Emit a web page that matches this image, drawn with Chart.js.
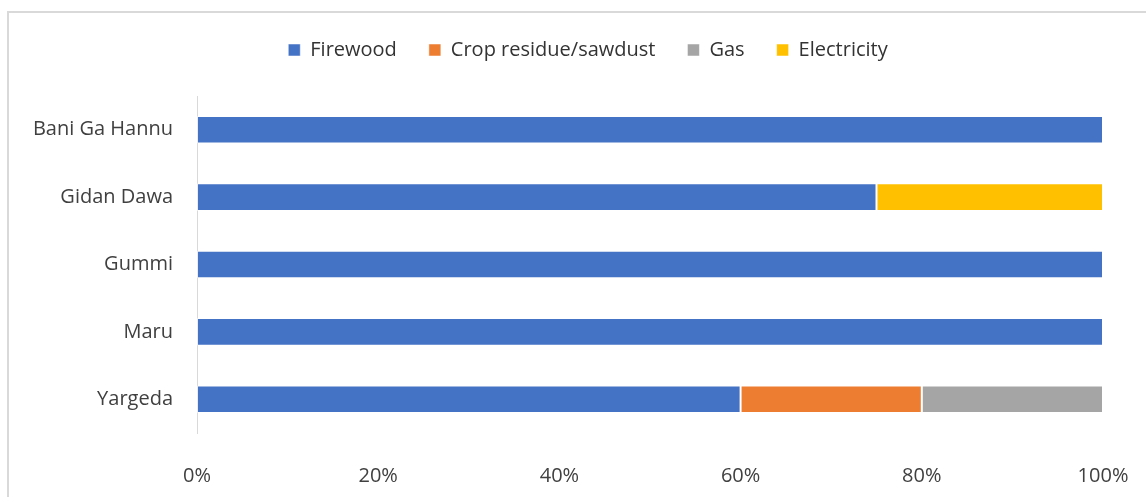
<!DOCTYPE html>
<html>
<head>
<meta charset="utf-8">
<script src="https://cdn.jsdelivr.net/npm/chart.js@4.4.1/dist/chart.umd.min.js"></script>
<style>
  html, body { margin: 0; padding: 0; background: #fff; }
  #wrap { position: relative; width: 1146px; height: 497px; overflow: hidden; }
  #frame { position: absolute; left: 7px; top: 11px; width: 1160px; height: 500px;
           border-left: 2px solid #d9d9d9; border-top: 2px solid #d9d9d9; box-sizing: border-box; }
  #c { position: absolute; left: 0; top: 0; }
</style>
</head>
<body>
<div id="wrap">
  <div id="frame"></div>
  <canvas id="c" width="1146" height="497"></canvas>
</div>
<script>
// Household cooking fuel by settlement (percent of households)
const categories = ['Bani Ga Hannu', 'Gidan Dawa', 'Gummi', 'Maru', 'Yargeda'];
const firewood    = [100, 75, 100, 100, 60];
const cropResidue = [0, 0, 0, 0, 20];
const gas         = [0, 0, 0, 0, 20];
const electricity = [0, 25, 0, 0, 0];
const xTicks = [0, 20, 40, 60, 80, 100];

const FONT = '"Open Sans", "Noto Sans", sans-serif';
const TEXT = '#404040';

// fixed legend block height, and a legend centred a little right of the canvas middle
const legendPlacement = {
  id: 'legendPlacement',
  afterInit(chart) {
    const lg = chart.legend;
    const fit = lg.fit;
    lg.fit = function () { fit.call(this); this.height = 88; };
  },
  beforeDraw(chart) {
    chart.legend.left = 73;
    chart.legend.right = 1103;
  }
};

const ds = (label, data, color) => ({
  label, data, backgroundColor: color,
  borderColor: 'rgba(255,255,255,0.5)', borderWidth: 1, borderSkipped: false,
  barPercentage: 0.82, categoryPercentage: 0.5
});

new Chart(document.getElementById('c'), {
  type: 'bar',
  data: {
    labels: categories,
    datasets: [
      ds('Firewood', firewood, '#4472C4'),
      ds('Crop residue/sawdust', cropResidue, '#ED7D31'),
      ds('Gas', gas, '#A5A5A5'),
      ds('Electricity', electricity, '#FFC000')
    ]
  },
  options: {
    indexAxis: 'y',
    responsive: false,
    animation: false,
    events: [],
    layout: { padding: { top: 8, left: 15, right: 43, bottom: 0 } },
    plugins: {
      legend: {
        position: 'top',
        labels: {
          boxWidth: 12, boxHeight: 12, padding: 32,
          color: '#333333', font: { family: FONT, size: 20 }
        }
      },
      tooltip: { enabled: false }
    },
    scales: {
      x: {
        stacked: true, min: 0, max: 100,
        afterBuildTicks(s) { s.ticks = xTicks.map(v => ({ value: v })); },
        afterFit(s) { s.height = 64; s.paddingLeft = 0; s.paddingRight = 0; },
        grid: { display: false },
        border: { display: false },
        ticks: {
          padding: 23, color: TEXT, font: { family: FONT, size: 20 },
          callback: v => v + '%'
        }
      },
      y: {
        stacked: true,
        afterFit(s) { s.width = 182; },
        grid: { display: false, drawTicks: false },
        border: { display: true, color: '#d9d9d9', width: 1 },
        ticks: { padding: 24, color: TEXT, font: { family: FONT, size: 20 } }
      }
    }
  },
  plugins: [legendPlacement]
});
</script>
</body>
</html>
